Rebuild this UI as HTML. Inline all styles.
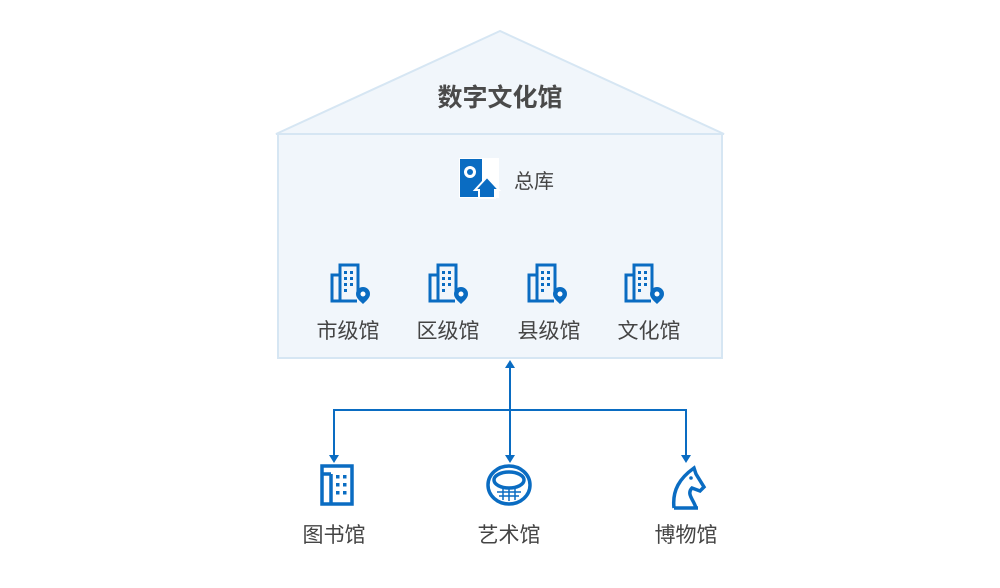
<!DOCTYPE html>
<html><head><meta charset="utf-8"><style>
body{margin:0;width:1000px;height:588px;background:#fff;overflow:hidden;font-family:"Liberation Sans","Noto Sans CJK SC",sans-serif;}
</style></head><body>
<svg width="1000" height="588" viewBox="0 0 1000 588" xmlns="http://www.w3.org/2000/svg" style="position:absolute;left:0;top:0">
<defs>
<g id="bld" fill="none" stroke="#0a6cc2" stroke-width="3">
<path d="M10 12 H2 V38 H27"/>
<path d="M10 38 V2 H28 V28"/>
<g fill="#0a6cc2" stroke="none">
<rect x="14" y="8" width="3" height="3"/><rect x="20" y="8" width="3" height="3"/>
<rect x="14" y="14" width="3" height="3"/><rect x="20" y="14" width="3" height="3"/>
<rect x="14" y="20" width="3" height="3"/><rect x="20" y="20" width="3" height="3"/>
<rect x="14" y="26" width="3" height="3"/>
<path d="M33 24 a7 7 0 0 1 7 7 c0 4 -4 7 -7 10 c-3 -3 -7 -6 -7 -10 a7 7 0 0 1 7 -7z"/>
</g>
<circle cx="33" cy="31" r="2.5" fill="#fff" stroke="none"/>
</g>
</defs>
<polygon points="500,31 276,134 724,134" fill="#f1f6fb" stroke="#d6e6f3" stroke-width="2"/>
<rect x="278" y="134" width="444" height="224" fill="#f1f6fb" stroke="#d6e6f3" stroke-width="2"/>
<text x="500" y="106" text-anchor="middle" font-size="25" font-weight="bold" fill="#4a4a4a">数字文化馆</text>
<rect x="459" y="158" width="40" height="40" fill="#fff"/>
<rect x="460" y="159" width="22" height="38" fill="#0a6cc2"/>
<circle cx="470" cy="172" r="6" fill="#fff"/><circle cx="470" cy="172" r="3" fill="#0a6cc2"/>
<path d="M475 190 L487 177 L499 190 L495 190 L495 198 L479 198 L479 190Z" fill="#0a6cc2" stroke="#fff" stroke-width="2"/>
<text x="514" y="188" font-size="20" fill="#444">总库</text>
<use href="#bld" x="330" y="263"/>
<use href="#bld" x="428" y="263"/>
<use href="#bld" x="527" y="263"/>
<use href="#bld" x="624" y="263"/>
<g font-size="21" fill="#444" text-anchor="middle">
<text x="348" y="338">市级馆</text><text x="448" y="338">区级馆</text>
<text x="549" y="338">县级馆</text><text x="649" y="338">文化馆</text>
<text x="334" y="542">图书馆</text><text x="509" y="542">艺术馆</text><text x="686" y="542">博物馆</text>
</g>
<g stroke="#0a6cc2" stroke-width="2" fill="none">
<path d="M510 366 V455"/><path d="M334 455 V410 H686 V455"/>
</g>
<g fill="#0a6cc2">
<path d="M505 368 L510 360 L515 368Z"/>
<path d="M329 455 L334 463 L339 455Z"/><path d="M505 455 L510 463 L515 455Z"/><path d="M681 455 L686 463 L691 455Z"/>
</g>
<g fill="none" stroke="#0a6cc2" stroke-width="3.5">
<rect x="322" y="466" width="30" height="38"/><path d="M331 474 H322 M331 474 V504"/>
<ellipse cx="509" cy="485" rx="21" ry="19"/><ellipse cx="509" cy="480" rx="15" ry="8"/>
<path d="M674 508 C672 490 680 478 694 468 L696 474 L704 487 L700 491 L692 488 C686 494 694 500 696 508 M674 508 H698"/>
</g>
<circle cx="691" cy="478" r="1.8" fill="#0a6cc2"/>
<g fill="#0a6cc2">
<rect x="336" y="475" width="3.5" height="3.5"/><rect x="343" y="475" width="3.5" height="3.5"/>
<rect x="336" y="483" width="3.5" height="3.5"/><rect x="343" y="483" width="3.5" height="3.5"/>
<rect x="336" y="491" width="3.5" height="3.5"/><rect x="343" y="491" width="3.5" height="3.5"/>
</g>
<g stroke="#0a6cc2" stroke-width="1.5"><path d="M497 492 H521 M499 496 H519 M503 489 V500 M509 489 V501 M515 489 V500"/></g>
</svg>
</body></html>
